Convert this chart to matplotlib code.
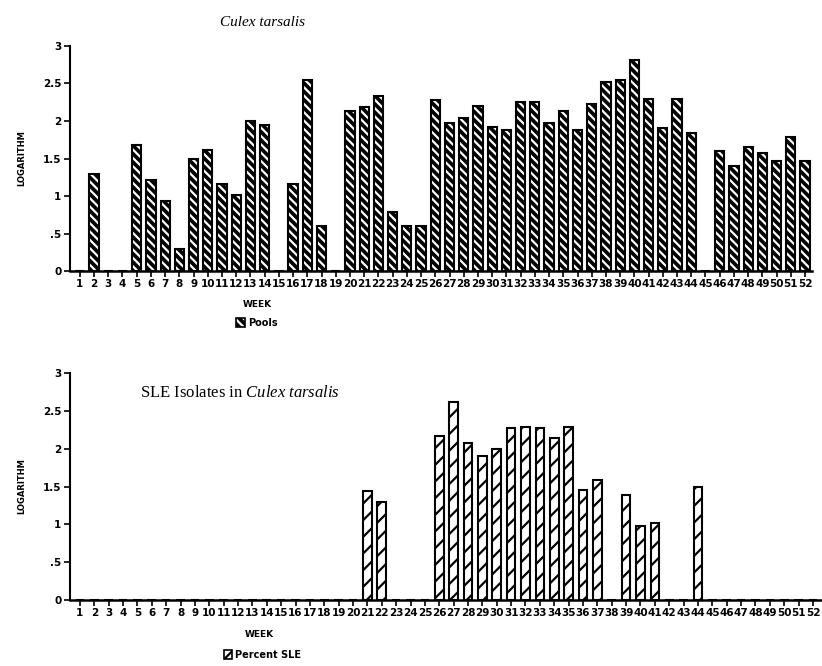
import numpy as np
import matplotlib
matplotlib.use('Agg')
import matplotlib.pyplot as plt
from matplotlib.patches import Patch

plt.rcParams['mathtext.fontset'] = 'custom'
plt.rcParams['mathtext.rm'] = 'Liberation Serif'
plt.rcParams['mathtext.it'] = 'Liberation Serif:italic'
plt.rcParams['hatch.linewidth'] = 1.6

weeks = np.arange(1, 53)
# log of pools per week
pools = [0, 1.3, 0, 0, 1.68, 1.22, 0.93, 0.3, 1.49, 1.61, 1.16, 1.02, 2.0, 1.95, 0, 1.16,
         2.54, 0.6, 0, 2.13, 2.18, 2.33, 0.79, 0.6, 0.6, 2.28, 1.97, 2.04, 2.2, 1.92, 1.88,
         2.25, 2.25, 1.97, 2.13, 1.88, 2.23, 2.52, 2.54, 2.81, 2.29, 1.91, 2.29, 1.84, 0,
         1.6, 1.4, 1.65, 1.58, 1.47, 1.79, 1.47]
# log of percent SLE per week
sle = [0, 0, 0, 0, 0, 0, 0, 0, 0, 0, 0, 0, 0, 0, 0, 0, 0, 0, 0, 0, 1.44, 1.29, 0, 0, 0,
       2.17, 2.61, 2.07, 1.9, 2.0, 2.27, 2.29, 2.27, 2.14, 2.29, 1.45, 1.59, 0, 1.39, 0.98,
       1.02, 0, 0, 1.5, 0, 0, 0, 0, 0, 0, 0, 0]
yticks = [0, 0.5, 1, 1.5, 2, 2.5, 3]
ylabels = ['0', '.5', '1', '1.5', '2', '2.5', '3']

fam = ['Liberation Sans Narrow', 'DejaVu Sans']
tickfont = dict(family=fam, weight='bold', size=7.5)

fig = plt.figure(figsize=(8.22, 6.66), dpi=100)
ax1 = fig.add_axes([0.085, 0.593, 0.903, 0.338])
ax2 = fig.add_axes([0.085, 0.099, 0.915, 0.341])


def style(ax, xmax):
    ax.set_ylim(0, 3)
    ax.set_xlim(0.3, xmax)
    for s in ['top', 'right']:
        ax.spines[s].set_visible(False)
    ax.spines['left'].set_linewidth(1.5)
    ax.spines['bottom'].set_linewidth(1.8)
    ax.set_xticks(weeks)
    ax.set_xticklabels([str(w) for w in weeks], fontdict=tickfont)
    ax.set_yticks(yticks)
    ax.set_yticklabels(ylabels, fontdict=tickfont)
    ax.tick_params(axis='x', length=4, width=1.2, pad=2)
    ax.tick_params(axis='y', length=4, width=1.2, pad=2)
    ax.set_ylabel('LOGARITHM', fontdict=dict(family=fam, weight='bold', size=6), labelpad=12)
    ax.set_xlabel('WEEK', fontdict=dict(family=fam, weight='bold', size=6.5))
    ax.xaxis.set_label_coords(0.252, -0.13)


# dark bars: black fill, white stripes, black outline
ax1.bar(weeks, pools, width=0.65, facecolor='black', edgecolor='white',
        linewidth=0, hatch='\\\\\\\\')
ax1.bar(weeks, pools, width=0.65, facecolor='none', edgecolor='black', linewidth=1.5)
style(ax1, 52.5)
ax1.set_title('Culex tarsalis', family='Liberation Serif', style='italic', size=11,
              x=0.26, y=1.05)
h1 = (Patch(facecolor='black', edgecolor='white', hatch='\\\\\\\\', linewidth=0),
      Patch(facecolor='none', edgecolor='black', linewidth=1.2))
ax1.legend([h1], ['Pools'], loc='center', bbox_to_anchor=(0.252, -0.23), frameon=False,
           prop=dict(family=fam, weight='bold', size=7),
           handlelength=0.9, handleheight=1.1, handletextpad=0.3)

ax2.bar(weeks, sle, width=0.6, facecolor='white', edgecolor='black',
        linewidth=1.5, hatch='//')
style(ax2, 52.63)
ax2.text(0.093, 0.912, 'SLE Isolates in $\\mathit{Culex\\ tarsalis}$', transform=ax2.transAxes,
         family='Liberation Serif', size=12, va='center')
h2 = Patch(facecolor='white', edgecolor='black', hatch='//', linewidth=1.2)
ax2.legend([h2], ['Percent SLE'], loc='center', bbox_to_anchor=(0.256, -0.24), frameon=False,
           prop=dict(family=fam, weight='bold', size=7),
           handlelength=0.9, handleheight=1.1, handletextpad=0.3)

plt.savefig('out.png', dpi=100)
